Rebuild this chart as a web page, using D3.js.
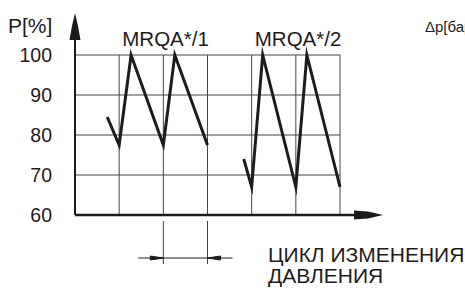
<!DOCTYPE html>
<html>
<head>
<meta charset="utf-8">
<script src="https://cdn.jsdelivr.net/npm/d3@7"></script>
<style>
  html, body { margin: 0; padding: 0; background: #fff; }
  svg { display: block; }
</style>
</head>
<body>
<svg id="chart"></svg>
<script>
// pressure ticks, cycle gridlines and the two zigzag series
const yTicks = [60, 70, 80, 90, 100];
const xGrid = [1, 2, 3, 4, 5, 6];
const seriesNames = ["MRQA*/1", "MRQA*/2"];
const series1 = [
  { t: 0.73, p: 84.5 }, { t: 1, p: 77.5 }, { t: 1.27, p: 100 },
  { t: 2, p: 77.5 }, { t: 2.26, p: 100 }, { t: 3, p: 77.5 }
];
const series2 = [
  { t: 3.82, p: 74 }, { t: 4, p: 67 }, { t: 4.25, p: 100 },
  { t: 5, p: 67 }, { t: 5.25, p: 100 }, { t: 6, p: 67 }
];
const cycleSpan = [2, 3];
const cycleLabel = ["ЦИКЛ ИЗМЕНЕНИЯ", "ДАВЛЕНИЯ"];

const INK = "#1f1b1c";
const FONT = "'Liberation Sans', Arial, sans-serif";

const width = 465, height = 290;
const svg = d3.select("#chart").attr("width", width).attr("height", height);

const x = d3.scaleLinear().domain([0, 6]).range([75, 340]);
const y = d3.scaleLinear().domain([60, 100]).range([215, 55]);

// grid
svg.append("g")
  .selectAll("line")
  .data(yTicks.slice(1))
  .join("line")
  .attr("x1", x(0)).attr("x2", x(6))
  .attr("y1", d => y(d)).attr("y2", d => y(d))
  .attr("stroke", "#444").attr("stroke-width", 1);

svg.append("g")
  .selectAll("line")
  .data(xGrid)
  .join("line")
  .attr("x1", d => x(d)).attr("x2", d => x(d))
  .attr("y1", y(100)).attr("y2", y(60))
  .attr("stroke", "#444").attr("stroke-width", 1);

// axes
svg.append("line")
  .attr("x1", x(0)).attr("x2", 356)
  .attr("y1", y(60)).attr("y2", y(60))
  .attr("stroke", INK).attr("stroke-width", 2.5);
svg.append("path")
  .attr("d", `M354,${y(60) - 4.5} L368,${y(60) - 3.5} L383,${y(60)} L368,${y(60) + 3.5} L354,${y(60) + 4.5} Z`)
  .attr("fill", INK);

svg.append("line")
  .attr("x1", x(0)).attr("x2", x(0))
  .attr("y1", y(60)).attr("y2", 38)
  .attr("stroke", INK).attr("stroke-width", 2);
svg.append("path")
  .attr("d", `M${x(0) - 5.5},40 L${x(0) - 3},26 L${x(0)},13 L${x(0) + 3},26 L${x(0) + 5.5},40 Z`)
  .attr("fill", INK);

// tick labels
svg.append("g")
  .selectAll("text")
  .data(yTicks)
  .join("text")
  .attr("x", 52)
  .attr("y", d => y(d) + 7)
  .attr("text-anchor", "end")
  .attr("font-family", FONT)
  .attr("font-size", 19.5)
  .attr("fill", INK)
  .text(d => d);

svg.append("text")
  .attr("x", 8).attr("y", 33)
  .attr("font-family", FONT).attr("font-size", 21)
  .attr("fill", INK)
  .text("P[%]");

// zigzag lines
const line = d3.line().x(d => x(d.t)).y(d => y(d.p));
[series1, series2].forEach((s, i) => {
  svg.append("path")
    .datum(s)
    .attr("d", line)
    .attr("fill", "none")
    .attr("stroke", INK)
    .attr("stroke-width", 3)
    .attr("stroke-linejoin", "miter")
    .attr("stroke-miterlimit", 10);

  svg.append("text")
    .attr("x", x(i * 3 + 2.05))
    .attr("y", 46)
    .attr("text-anchor", "middle")
    .attr("font-family", FONT).attr("font-size", 20.5)
    .attr("fill", INK)
    .text(seriesNames[i]);
});

svg.append("text")
  .attr("x", 425).attr("y", 32)
  .attr("font-family", FONT).attr("font-size", 15)
  .attr("fill", INK)
  .text("Δp[бар]");

// cycle dimension
const dimY = 258;
svg.append("g")
  .selectAll("line")
  .data(cycleSpan)
  .join("line")
  .attr("x1", d => x(d)).attr("x2", d => x(d))
  .attr("y1", 221).attr("y2", 264)
  .attr("stroke", "#444").attr("stroke-width", 1);
svg.append("line")
  .attr("x1", x(cycleSpan[0]) - 25).attr("x2", x(cycleSpan[1]) + 25)
  .attr("y1", dimY).attr("y2", dimY)
  .attr("stroke", INK).attr("stroke-width", 1);
const xa = x(cycleSpan[0]), xb = x(cycleSpan[1]);
svg.append("path")
  .attr("d", `M${xa - 13},${dimY - 2} L${xa},${dimY} L${xa - 13},${dimY + 2} Z`)
  .attr("fill", INK).attr("stroke", INK).attr("stroke-width", 1);
svg.append("path")
  .attr("d", `M${xb + 13},${dimY - 2} L${xb},${dimY} L${xb + 13},${dimY + 2} Z`)
  .attr("fill", INK).attr("stroke", INK).attr("stroke-width", 1);

svg.append("g")
  .selectAll("text")
  .data(cycleLabel)
  .join("text")
  .attr("x", 268)
  .attr("y", (d, i) => 262 + i * 21)
  .attr("font-family", FONT).attr("font-size", 21)
  .attr("fill", INK)
  .text(d => d);
</script>
</body>
</html>
